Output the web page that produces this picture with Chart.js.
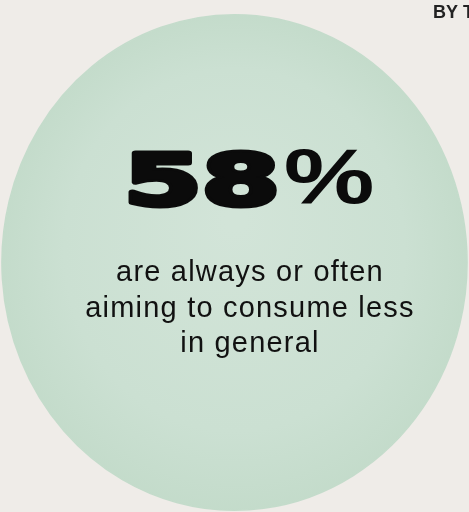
<!DOCTYPE html>
<html>
<head>
<meta charset="utf-8">
<script src="https://cdn.jsdelivr.net/npm/chart.js@4.4.1/dist/chart.umd.min.js"></script>
<style>
  html, body { margin: 0; padding: 0; background: #efece8; }
  #wrap { width: 469px; height: 512px; overflow: hidden; }
</style>
</head>
<body>
<div id="wrap"><canvas id="stat-chart" width="469" height="512"></canvas></div>
<script>
// data
const categories = ["Always or often aiming to consume less", "Others"];
const shares = [58, 42];
const captionLines = ["are always or often", "aiming to consume less", "in general"];
const kicker = "BY THE NUMBERS";

// blob gets drawn a bit taller than wide, like the watercolour stain
var stretchBlob = {
  id: "stretchBlob",
  beforeDatasetsDraw(chart) {
    const arc = chart.getDatasetMeta(0).data[0];
    const ctx = chart.ctx;
    ctx.save();
    ctx.translate(arc.x, arc.y);
    ctx.scale(0.995, 1.06);
    ctx.translate(-arc.x, -arc.y);
  },
  afterDatasetsDraw(chart) {
    chart.ctx.restore();
  },
};

var statText = {
  id: "statText",
  afterDraw(chart) {
    const ctx = chart.ctx;
    ctx.save();
    ctx.fillStyle = "#0b0b0b";
    ctx.strokeStyle = "#0b0b0b";
    ctx.lineJoin = "round";
    ctx.textBaseline = "alphabetic";
    ctx.textAlign = "left";

    // big number, wide and heavy (stroke to fatten it)
    const fat = 5;
    ctx.font = "bold 80px 'DejaVu Sans'";
    let m = ctx.measureText(String(shares[0]));
    let size = 80 * (59 - fat) / m.actualBoundingBoxAscent;
    ctx.font = "bold " + size + "px 'DejaVu Sans'";
    m = ctx.measureText(String(shares[0]));
    let sx = (149 - fat * 1.4) / (m.actualBoundingBoxLeft + m.actualBoundingBoxRight);
    ctx.save();
    ctx.translate(128 + fat * 0.7 + m.actualBoundingBoxLeft * sx, 207 - fat / 2);
    ctx.scale(sx, 1);
    ctx.lineWidth = fat;
    ctx.strokeText(String(shares[0]), 0, 0);
    ctx.fillText(String(shares[0]), 0, 0);
    ctx.restore();

    // percent sign
    ctx.font = "bold 80px 'Liberation Sans'";
    m = ctx.measureText("%");
    size = 80 * 56 / (m.actualBoundingBoxAscent + m.actualBoundingBoxDescent);
    ctx.font = "bold " + size + "px 'Liberation Sans'";
    m = ctx.measureText("%");
    sx = 87 / (m.actualBoundingBoxLeft + m.actualBoundingBoxRight);
    ctx.save();
    ctx.translate(285 + m.actualBoundingBoxLeft * sx, 204 - m.actualBoundingBoxDescent);
    ctx.scale(sx, 1);
    ctx.fillText("%", 0, 0);
    ctx.restore();

    // caption
    ctx.font = "29px 'Liberation Sans'";
    ctx.letterSpacing = "1.2px";
    ctx.textAlign = "center";
    ctx.fillStyle = "#111";
    captionLines.forEach((line, i) => {
      ctx.fillText(line, 250, 281 + i * 35.5);
    });

    // kicker, cut off by the right edge
    ctx.letterSpacing = "0px";
    ctx.textAlign = "left";
    ctx.font = "bold 18px 'Liberation Sans'";
    ctx.fillStyle = "#222";
    ctx.fillText(kicker, 433, 18);
    ctx.restore();
  },
};

function blobFill(context) {
  const chart = context.chart;
  const area = chart.chartArea;
  if (!area) return "#c9dfd0";
  const cx = (area.left + area.right) / 2;
  const cy = (area.top + area.bottom) / 2;
  const g = chart.ctx.createRadialGradient(cx, cy - 40, 10, cx, cy, 240);
  g.addColorStop(0, "#d2e4d8");
  g.addColorStop(0.7, "#cbe0d2");
  g.addColorStop(1, "#c3dbca");
  return g;
}

const statChart = new Chart(document.getElementById("stat-chart"), {
  type: "pie",
  data: {
    labels: categories,
    datasets: [
      {
        data: shares,
        backgroundColor: blobFill,
        borderColor: blobFill,
        borderWidth: 1.5,
      },
    ],
  },
  options: {
    responsive: false,
    animation: false,
    layout: { padding: { top: 28, bottom: 15, left: 0, right: 0 } },
    plugins: {
      legend: { display: false },
      tooltip: { enabled: false },
    },
  },
  plugins: [stretchBlob, statText],
});
</script>
</body>
</html>
